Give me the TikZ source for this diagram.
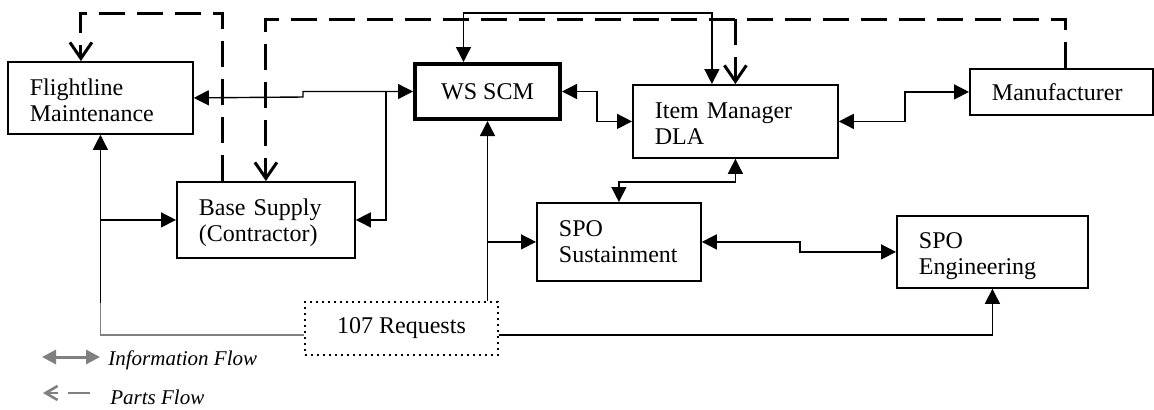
\documentclass[tikz,border=0pt]{standalone}
\usepackage{fontspec}
\setmainfont{Liberation Serif}
\usetikzlibrary{arrows.meta,positioning,calc}
\tikzset{
unit/.style={draw, line width=0.9pt, anchor=north west, align=left, inner xsep=11pt, inner ysep=0pt},
arr/.style={-{Triangle[length=7.5pt,width=7.5pt]}, line width=0.7pt},
darr/.style={{Triangle[length=7.5pt,width=7.5pt]}-{Triangle[length=7.5pt,width=7.5pt]}, line width=0.7pt},
parts/.style={-{Straight Barb[length=8pt,width=11pt]}, line width=1.5pt, dash pattern=on 13pt off 6pt},
}
\tikzstyle{every node}=[font=\fontsize{12}{13}\selectfont]

\begin{document}
\begin{tikzpicture}[
        x=0.5pt, y=-0.5pt,
        request/.style={draw, dotted, line width=1pt, minimum width=96.5pt, minimum height=26.5pt, inner sep=0pt},
        legend/.style={font=\fontsize{10.5}{12}\selectfont\itshape, anchor=base west, inner sep=0pt}
    ]
    \useasboundingbox (0,0) rectangle (1154,409);

    \node[unit, text width=70.5pt, text height=17pt, text depth=19pt] (FM) at (7,61) {Flightline\\Maintenance};
    \node[unit, text width=67pt, text height=17pt, text depth=21pt] (BS) at (176,181) {Base Supply\\(Contractor)};
    \node[draw, line width=2pt, minimum width=72.5pt, minimum height=27.5pt, inner sep=0pt] (WS) at (487.5,91.5) {WS SCM};
    \node[unit, text width=80.5pt, text height=17pt, text depth=19.5pt] (IM) at (632,84) {Item Manager\\DLA};
    \node[unit, text width=69.5pt, text height=16pt, text depth=7pt] (MF) at (969,68) {Manufacturer};
    \node[unit, text width=60pt, text height=17pt, text depth=22pt] (SS) at (536,202) {SPO\\Sustainment};
    \node[unit, text width=73.5pt, text height=16.5pt, text depth=19.5pt] (SE) at (896,215) {SPO\\Engineering};
    \node[request] (RQ) at (401.5,328.5) {107 Requests};

    \coordinate (bsfork) at (386,91.5);
    \coordinate (fmfork) at ([yshift=-84pt]FM.south);
    \coordinate (mftop) at ([xshift=2.25pt,yshift=24.5pt]MF.north);

    \draw[darr] (FM.east) -- (303,97) |- (WS.west);
    \draw[arr] (bsfork) |- (BS.east);
    \draw[arr] (fmfork) -- (FM.south);
    \draw[arr] (FM.south |- BS.west) -- (BS.west);
    \draw[line width=0.7pt, gray] (fmfork) |- ([yshift=-3.25pt]RQ.west);
    \draw[arr] (RQ.north -| WS.south) -- (WS.south);
    \draw[arr] (WS.south |- SS.west) -- (SS.west);
    \draw[arr] ([yshift=-3.25pt]RQ.east) -| (SE.south);
    \draw[darr] (WS.east) -- ++(17.5pt,0) |- (IM.west);
    \draw[darr] (IM.east) -- ++(33pt,0) |- (MF.west);
    \draw[darr] (IM.south) -- ++(0,-11.5pt) -| (SS.north);
    \draw[darr] (SS.east) -- ++(49pt,0) |- (SE.west);
    \draw[darr] ([xshift=-12pt]WS.north) -- ++(0,24.5pt) -| ([xshift=-11.75pt]IM.north);

    \draw[parts] ([xshift=-21.5pt]BS.north) -- ++(0,84pt) -| ([xshift=-9.75pt]FM.north);
    \draw[parts] ([xshift=2.25pt]MF.north) -- (mftop) -| (BS.north);
    \draw[parts] (mftop -| IM.north) -- (IM.north);

    \node[legend] (info) at (108,365) {Information Flow};
    \node[legend] (partsflow) at (110,404) {Parts Flow};
    \draw[gray, line width=1.5pt, {Triangle[length=7pt,width=7pt]}-{Triangle[length=7pt,width=7pt]}] (42,357) -- (100,357);
    \draw[gray, line width=1.3pt, dash pattern=on 11pt off 5pt, -{Straight Barb[length=6pt,width=7pt]}] (90,393) -- (43,393);
\end{tikzpicture}
\end{document}
